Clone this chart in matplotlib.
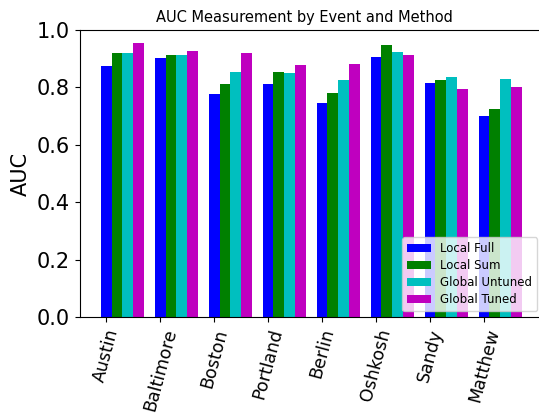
import matplotlib
matplotlib.use('Agg')
import matplotlib.pyplot as plt
import numpy as np

events = ['Austin', 'Baltimore', 'Boston', 'Portland', 'Berlin', 'Oshkosh', 'Sandy', 'Matthew']
methods = ['Local Full', 'Local Sum', 'Global Untuned', 'Global Tuned']
local_full = [0.876, 0.903, 0.778, 0.813, 0.747, 0.907, 0.815, 0.700]
local_sum = [0.919, 0.912, 0.813, 0.855, 0.779, 0.947, 0.825, 0.724]
global_untuned = [0.919, 0.912, 0.854, 0.849, 0.825, 0.924, 0.835, 0.828]
global_tuned = [0.956, 0.928, 0.921, 0.877, 0.880, 0.914, 0.794, 0.802]
colors = ['b', 'g', 'c', 'm']

series = [local_full, local_sum, global_untuned, global_tuned]
x = np.arange(len(events))
w = 0.2

fig, ax = plt.subplots(figsize=(5.39, 4.16), dpi=100)
# the original image is cropped on the right, so the axes run past the edge
fig.subplots_adjust(left=0.148, right=1.007, bottom=0.238, top=0.928)

for i in range(4):
    ax.bar(x + i*w, series[i], w, color=colors[i], label=methods[i])

ax.set_xticks(x)
ax.set_xticklabels(events, rotation=75, fontsize=12.5)
ax.tick_params(axis='y', labelsize=15)
ax.set_ylim(0, 1.0)
ax.set_ylabel('AUC', fontsize=15)
ax.set_title('AUC Measurement by Event and Method', fontsize=10.5, x=0.486)
ax.legend(loc='lower right', fontsize=8.5, labelspacing=0.35)

fig.savefig('out.png')
